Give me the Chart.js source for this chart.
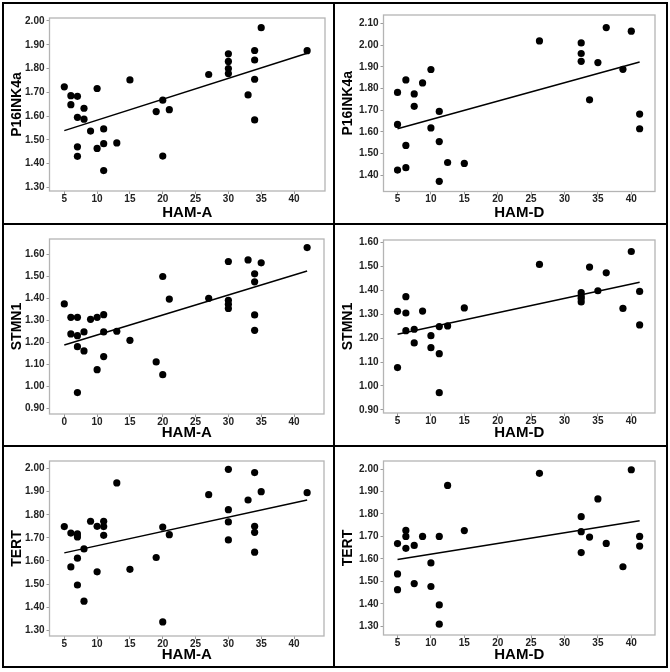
<!DOCTYPE html>
<html><head><meta charset="utf-8">
<script src="https://cdn.jsdelivr.net/npm/chart.js@4.4.1/dist/chart.umd.min.js"></script>
<style>
html,body{margin:0;padding:0;background:#fff;}
#wrap{position:relative;width:670px;height:672px;overflow:hidden;background:#fff;}
.ln{position:absolute;background:#000;}
canvas{position:absolute;}
</style></head><body>
<div id="wrap">
  <canvas id="c1"></canvas><canvas id="c2"></canvas>
  <canvas id="c3"></canvas><canvas id="c4"></canvas>
  <canvas id="c5"></canvas><canvas id="c6"></canvas>
  <div class="ln" style="left:2px;top:2px;width:666px;height:2px"></div>
  <div class="ln" style="left:2px;top:666px;width:666px;height:2px"></div>
  <div class="ln" style="left:2px;top:2px;width:2px;height:666px"></div>
  <div class="ln" style="left:666px;top:2px;width:2px;height:666px"></div>
  <div class="ln" style="left:333px;top:2px;width:2px;height:666px"></div>
  <div class="ln" style="left:2px;top:223px;width:666px;height:2px"></div>
  <div class="ln" style="left:2px;top:445px;width:666px;height:2px"></div>
</div>
<script>
// ---------- DATA ----------
const hamA = [5,6,6,7,7,7,7,8,8,9,10,10,11,11,11,13,15,19,20,20,21,27,30,30,30,30,33,34,34,34,34,35,42];
const p16_hamA   = [1.723,1.686,1.648,1.683,1.595,1.471,1.431,1.633,1.587,1.537,1.716,1.464,1.546,1.484,1.371,1.487,1.752,1.619,1.667,1.432,1.627,1.775,1.862,1.830,1.800,1.779,1.689,1.876,1.836,1.755,1.584,1.972,1.875];
const stmn1_hamA = [1.375,1.314,1.239,1.314,1.231,1.181,0.973,1.248,1.162,1.305,1.314,1.077,1.326,1.248,1.136,1.251,1.210,1.112,1.499,1.054,1.397,1.400,1.567,1.391,1.373,1.354,1.574,1.511,1.475,1.325,1.255,1.561,1.630];
const tert_hamA  = [1.749,1.721,1.574,1.717,1.704,1.612,1.496,1.652,1.426,1.772,1.750,1.553,1.772,1.749,1.711,1.938,1.564,1.615,1.747,1.336,1.714,1.887,1.997,1.822,1.769,1.691,1.864,1.983,1.750,1.724,1.638,1.900,1.896];

const hamD_p16   = [5,5,5,6.25,6.25,6.25,7.5,7.5,8.75,10,10,11.25,11.25,11.25,12.5,15,26.25,32.5,32.5,32.5,33.75,35,36.25,38.75,40,41.25,41.25];
const p16_hamD   = [1.782,1.634,1.423,1.840,1.537,1.434,1.775,1.718,1.826,1.888,1.618,1.694,1.555,1.371,1.458,1.454,2.020,2.011,1.962,1.926,1.748,1.920,2.082,1.889,2.065,1.682,1.614];
const hamD_stmn1 = [5,5,6.25,6.25,6.25,7.5,7.5,8.75,10,10,11.25,11.25,11.25,12.5,15,26.25,32.5,32.5,32.5,32.5,33.75,35,36.25,38.75,40,41.25,41.25];
const stmn1_hamD = [1.312,1.077,1.373,1.305,1.231,1.237,1.180,1.313,1.210,1.160,1.248,1.135,0.972,1.251,1.326,1.508,1.390,1.376,1.366,1.351,1.497,1.398,1.473,1.324,1.562,1.395,1.255];
const hamD_tert  = [5,5,5,6.25,6.25,6.25,7.5,7.5,8.75,10,10,11.25,11.25,11.25,12.5,15,26.25,32.5,32.5,32.5,33.75,35,36.25,38.75,40,41.25,41.25];
const tert_hamD  = [1.668,1.533,1.463,1.727,1.700,1.647,1.660,1.490,1.700,1.582,1.477,1.700,1.395,1.309,1.927,1.726,1.981,1.788,1.721,1.628,1.697,1.867,1.669,1.565,1.997,1.700,1.657];

// fitted regression lines (endpoints)
const fitX_hamA = [5, 42];
const fitX_hamD = [5, 41.25];
const fit_p16_hamA   = [1.539, 1.864];
const fit_p16_hamD   = [1.614, 1.923];
const fit_stmn1_hamA = [1.189, 1.524];
const fit_stmn1_hamD = [1.216, 1.433];
const fit_tert_hamA  = [1.635, 1.864];
const fit_tert_hamD  = [1.597, 1.770];

// tick labels
const xTickVals = [5,10,15,20,25,30,35,40];
const xTickLabels = ['5','10','15','20','25','30','35','40'];
const xTickLabelsStmnA = ['0','10','15','20','25','30','35','40'];
const yTicksP16A = [1.30,1.40,1.50,1.60,1.70,1.80,1.90,2.00];
const yTicksP16D = [1.40,1.50,1.60,1.70,1.80,1.90,2.00,2.10];
const yTicksStmn = [0.90,1.00,1.10,1.20,1.30,1.40,1.50,1.60];
const yTicksTert = [1.30,1.40,1.50,1.60,1.70,1.80,1.90,2.00];

// ---------- DRAWING ----------
const frame = {
  id: 'frame',
  beforeDatasetsDraw(chart) {
    const a = chart.chartArea, c = chart.ctx;
    c.save();
    c.strokeStyle = '#b4b4b4';
    c.lineWidth = 1.3;
    c.strokeRect(a.left, a.top, a.right - a.left, a.bottom - a.top);
    c.restore();
  }
};

const tickFont = {family: '"Liberation Sans", Arial, sans-serif', size: 10, weight: 'bold'};

function makeChart(p) {
  const cv = document.getElementById(p.id);
  cv.width = p.cell[2]; cv.height = p.cell[3];
  cv.style.left = p.cell[0] + 'px'; cv.style.top = p.cell[1] + 'px';
  cv.style.width = p.cell[2] + 'px'; cv.style.height = p.cell[3] + 'px';
  const [cl, ct, cw, ch] = p.cell;
  const [pl, pt, pr, pb] = p.plot;
  const yW = pl - cl, xH = (ct + ch) - pb;
  const pts = p.xs.map((x, i) => ({x: x, y: p.ys[i]}));
  const fit = p.fx.map((x, i) => ({x: x, y: p.fy[i]}));
  new Chart(cv, {
    type: 'scatter',
    data: {datasets: [
      {type: 'line', data: fit, borderColor: '#000', borderWidth: 1.5, pointRadius: 0, showLine: true, fill: false, order: 1},
      {data: pts, backgroundColor: '#000', borderColor: '#000', pointRadius: 3.6, borderWidth: 0, order: 0}
    ]},
    options: {
      responsive: false, animation: false, devicePixelRatio: 1,
      plugins: {legend: {display: false}, tooltip: {enabled: false}},
      layout: {padding: {top: pt - ct, right: (cl + cw) - pr, left: 0, bottom: 0}},
      scales: {
        x: {
          type: 'linear', min: p.xr[0], max: p.xr[1],
          afterFit(s) { s.height = xH; },
          afterBuildTicks(s) { s.ticks = xTickVals.map(v => ({value: v})); },
          ticks: {callback: (v, i) => p.xl[i], font: tickFont, color: '#222', padding: -1, maxRotation: 0, autoSkip: false},
          grid: {drawOnChartArea: false, drawTicks: true, tickLength: 3, color: '#9a9a9a'},
          border: {display: false},
          title: {display: true, text: p.xt, color: '#000',
                  font: {family: '"Liberation Sans", Arial, sans-serif', size: 15, weight: 'bold', lineHeight: 1},
                  padding: {top: 0, bottom: p.tb}}
        },
        y: {
          type: 'linear', min: p.yr[0], max: p.yr[1],
          afterFit(s) { s.width = yW; },
          afterBuildTicks(s) { s.ticks = p.yt.map(v => ({value: v})); },
          ticks: {callback: (v) => v.toFixed(2), font: tickFont, color: '#222', padding: 2, autoSkip: false},
          grid: {drawOnChartArea: false, drawTicks: true, tickLength: 3, color: '#9a9a9a'},
          border: {display: false},
          title: {display: true, text: p.ytt, color: '#000',
                  font: {family: '"Liberation Sans", Arial, sans-serif', size: 14, weight: 'bold', lineHeight: 1},
                  padding: {top: 6, bottom: 0}}
        }
      }
    },
    plugins: [frame]
  });
}

makeChart({id: 'c1', cell: [4, 4, 329, 219], plot: [49.5, 18, 325, 191], tb: 2.5,
  xs: hamA, ys: p16_hamA, fx: fitX_hamA, fy: fit_p16_hamA,
  xr: [2.745, 44.72], yr: [1.285, 2.0126], xl: xTickLabels, yt: yTicksP16A, xt: 'HAM-A', ytt: 'P16INK4a'});
makeChart({id: 'c2', cell: [335, 4, 331, 219], plot: [383.5, 15, 655, 191.5], tb: 2.5,
  xs: hamD_p16, ys: p16_hamD, fx: fitX_hamD, fy: fit_p16_hamD,
  xr: [2.90, 43.55], yr: [1.324, 2.14], xl: xTickLabels, yt: yTicksP16D, xt: 'HAM-D', ytt: 'P16INK4a'});
makeChart({id: 'c3', cell: [4, 225, 329, 220], plot: [49.5, 239, 324, 414], tb: 4.5,
  xs: hamA, ys: stmn1_hamA, fx: fitX_hamA, fy: fit_stmn1_hamA,
  xr: [2.745, 44.57], yr: [0.876, 1.669], xl: xTickLabelsStmnA, yt: yTicksStmn, xt: 'HAM-A', ytt: 'STMN1'});
makeChart({id: 'c4', cell: [335, 225, 331, 220], plot: [383.5, 240, 655, 413], tb: 4.5,
  xs: hamD_stmn1, ys: stmn1_hamD, fx: fitX_hamD, fy: fit_stmn1_hamD,
  xr: [2.90, 43.55], yr: [0.887, 1.61], xl: xTickLabels, yt: yTicksStmn, xt: 'HAM-D', ytt: 'STMN1'});
makeChart({id: 'c5', cell: [4, 447, 329, 219], plot: [49.5, 461, 324, 636], tb: 3.5,
  xs: hamA, ys: tert_hamA, fx: fitX_hamA, fy: fit_tert_hamA,
  xr: [2.745, 44.57], yr: [1.275, 2.033], xl: xTickLabels, yt: yTicksTert, xt: 'HAM-A', ytt: 'TERT'});
makeChart({id: 'c6', cell: [335, 447, 331, 219], plot: [383.5, 461, 655, 635], tb: 3.5,
  xs: hamD_tert, ys: tert_hamD, fx: fitX_hamD, fy: fit_tert_hamD,
  xr: [2.90, 43.55], yr: [1.261, 2.036], xl: xTickLabels, yt: yTicksTert, xt: 'HAM-D', ytt: 'TERT'});
</script>
</body></html>
